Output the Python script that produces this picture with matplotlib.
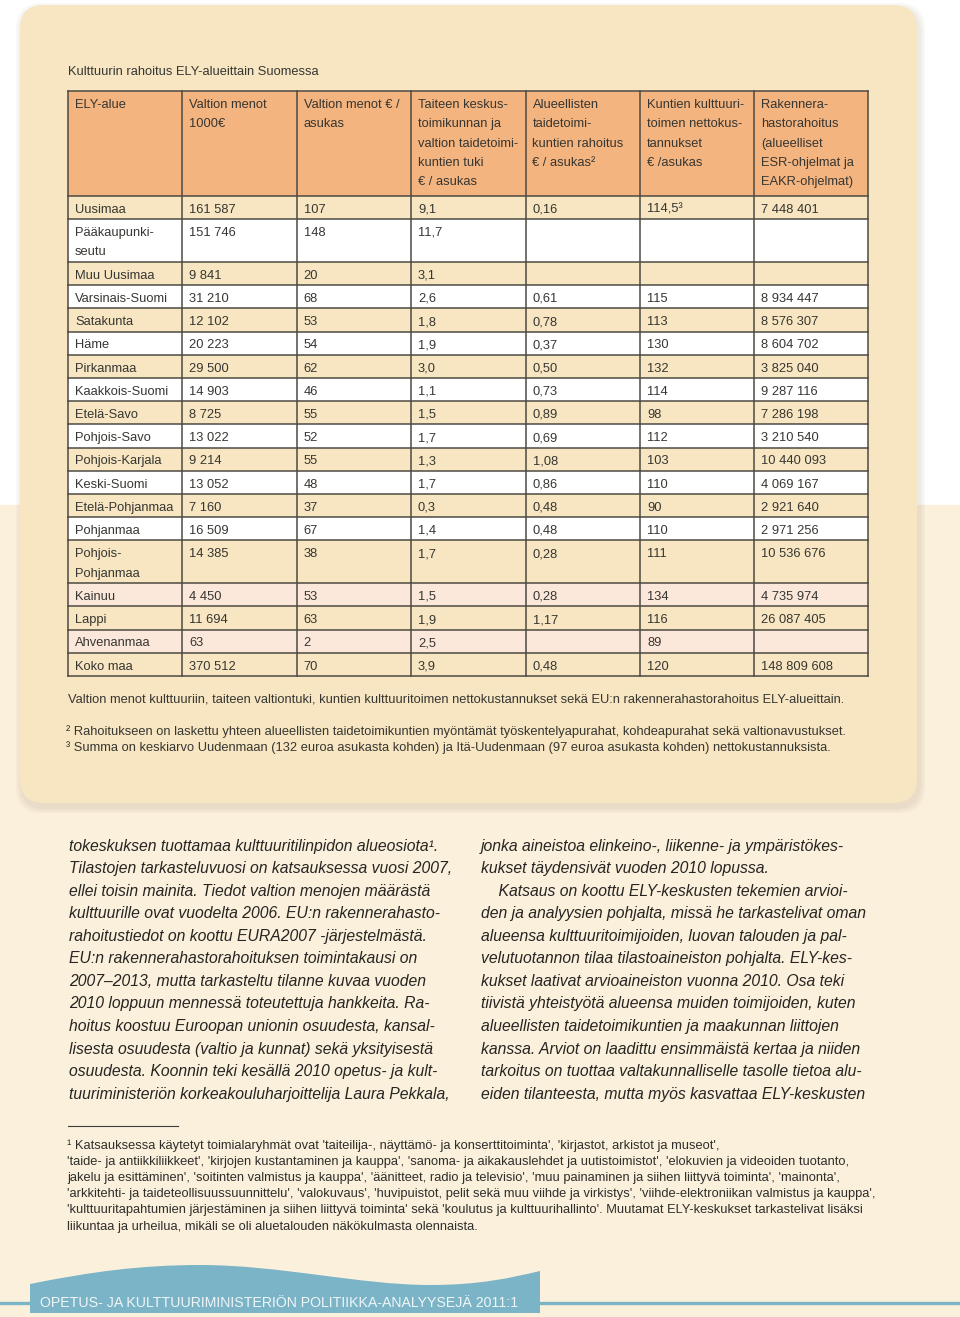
import matplotlib
matplotlib.use("Agg")
import matplotlib.pyplot as plt
from matplotlib.patches import Rectangle, FancyBboxPatch, PathPatch
from matplotlib.path import Path

# ---------------- data ----------------
title = "Kulttuurin rahoitus ELY-alueittain Suomessa"
headers = [
    ["ELY-alue"],
    ["Valtion menot", "1000€"],
    ["Valtion menot € /", "asukas"],
    ["Taiteen keskus-", "toimikunnan ja", "valtion taidetoimi-", "kuntien tuki", "€ / asukas"],
    ["Alueellisten", "taidetoimi-", "kuntien rahoitus", "€ / asukas²"],
    ["Kuntien kulttuuri-", "toimen nettokus-", "tannukset", "€ /asukas"],
    ["Rakennera-", "hastorahoitus", "(alueelliset", "ESR-ohjelmat ja", "EAKR-ohjelmat)"],
]
alueet = ["Uusimaa", "Pääkaupunki-\nseutu", "Muu Uusimaa", "Varsinais-Suomi", "Satakunta",
          "Häme", "Pirkanmaa", "Kaakkois-Suomi", "Etelä-Savo", "Pohjois-Savo",
          "Pohjois-Karjala", "Keski-Suomi", "Etelä-Pohjanmaa", "Pohjanmaa",
          "Pohjois-\nPohjanmaa", "Kainuu", "Lappi", "Ahvenanmaa", "Koko maa"]
valtion_menot = ["161 587", "151 746", "9 841", "31 210", "12 102", "20 223", "29 500",
                 "14 903", "8 725", "13 022", "9 214", "13 052", "7 160", "16 509",
                 "14 385", "4 450", "11 694", "63", "370 512"]
menot_asukas = ["107", "148", "20", "68", "53", "54", "62", "46", "55", "52", "55", "48",
                "37", "67", "38", "53", "63", "2", "70"]
taide_tuki = ["9,1", "11,7", "3,1", "2,6", "1,8", "1,9", "3,0", "1,1", "1,5", "1,7", "1,3",
              "1,7", "0,3", "1,4", "1,7", "1,5", "1,9", "2,5", "3,9"]
alueelliset = ["0,16", "", "", "0,61", "0,78", "0,37", "0,50", "0,73", "0,89", "0,69",
               "1,08", "0,86", "0,48", "0,48", "0,28", "0,28", "1,17", "", "0,48"]
kunnat = ["114,5³", "", "", "115", "113", "130", "132", "114", "98", "112", "103", "110",
          "90", "110", "111", "134", "116", "89", "120"]
rakennerahasto = ["7 448 401", "", "", "8 934 447", "8 576 307", "8 604 702", "3 825 040",
                  "9 287 116", "7 286 198", "3 210 540", "10 440 093", "4 069 167",
                  "2 921 640", "2 971 256", "10 536 676", "4 735 974", "26 087 405", "",
                  "148 809 608"]

caption = ("Valtion menot kulttuuriin, taiteen valtiontuki, kuntien kulttuuritoimen "
           "nettokustannukset sekä EU:n rakennerahastorahoitus ELY-alueittain.")
note2 = ("² Rahoitukseen on laskettu yhteen alueellisten taidetoimikuntien myöntämät "
         "työskentelyapurahat, kohdeapurahat sekä valtionavustukset.")
note3 = ("³ Summa on keskiarvo Uudenmaan (132 euroa asukasta kohden) ja Itä-Uudenmaan "
         "(97 euroa asukasta kohden) nettokustannuksista.")

body_left = [
    "tokeskuksen tuottamaa kulttuuritilinpidon alueosiota¹.",
    "Tilastojen tarkasteluvuosi on katsauksessa vuosi 2007,",
    "ellei toisin mainita. Tiedot valtion menojen määrästä",
    "kulttuurille ovat vuodelta 2006. EU:n rakennerahasto-",
    "rahoitustiedot on koottu EURA2007 -järjestelmästä.",
    "EU:n rakennerahastorahoituksen toimintakausi on",
    "2007–2013, mutta tarkasteltu tilanne kuvaa vuoden",
    "2010 loppuun mennessä toteutettuja hankkeita. Ra-",
    "hoitus koostuu Euroopan unionin osuudesta, kansal-",
    "lisesta osuudesta (valtio ja kunnat) sekä yksityisestä",
    "osuudesta. Koonnin teki kesällä 2010 opetus- ja kult-",
    "tuuriministeriön korkeakouluharjoittelija Laura Pekkala,",
]
body_right = [
    "jonka aineistoa elinkeino-, liikenne- ja ympäristökes-",
    "kukset täydensivät vuoden 2010 lopussa.",
    "    Katsaus on koottu ELY-keskusten tekemien arvioi-",
    "den ja analyysien pohjalta, missä he tarkastelivat oman",
    "alueensa kulttuuritoimijoiden, luovan talouden ja pal-",
    "velutuotannon tilaa tilastoaineiston pohjalta. ELY-kes-",
    "kukset laativat arvioaineiston vuonna 2010. Osa teki",
    "tiivistä yhteistyötä alueensa muiden toimijoiden, kuten",
    "alueellisten taidetoimikuntien ja maakunnan liittojen",
    "kanssa. Arviot on laadittu ensimmäistä kertaa ja niiden",
    "tarkoitus on tuottaa valtakunnalliselle tasolle tietoa alu-",
    "eiden tilanteesta, mutta myös kasvattaa ELY-keskusten",
]
footnote1 = [
    "¹ Katsauksessa käytetyt toimialaryhmät ovat 'taiteilija-, näyttämö- ja konserttitoiminta', 'kirjastot, arkistot ja museot',",
    "'taide- ja antiikkiliikkeet', 'kirjojen kustantaminen ja kauppa', 'sanoma- ja aikakauslehdet ja uutistoimistot', 'elokuvien ja videoiden tuotanto,",
    "jakelu ja esittäminen', 'soitinten valmistus ja kauppa', 'äänitteet, radio ja televisio', 'muu painaminen ja siihen liittyvä toiminta', 'mainonta',",
    "'arkkitehti- ja taideteollisuussuunnittelu', 'valokuvaus', 'huvipuistot, pelit sekä muu viihde ja virkistys', 'viihde-elektroniikan valmistus ja kauppa',",
    "'kulttuuritapahtumien järjestäminen ja siihen liittyvä toiminta' sekä 'koulutus ja kulttuurihallinto'. Muutamat ELY-keskukset tarkastelivat lisäksi",
    "liikuntaa ja urheilua, mikäli se oli aluetalouden näkökulmasta olennaista.",
]
banner = "OPETUS- JA KULTTUURIMINISTERIÖN POLITIIKKA-ANALYYSEJÄ 2011:1"

# ---------------- styles ----------------
plt.rcParams['font.family'] = ['Liberation Sans', 'DejaVu Sans']

TXT = '#363632'
CARD = '#f7e6c1'
PAGE = '#fbf0dc'
HEAD = '#f4b47f'
PINK = '#fce8da'
LINE = '#4d4a42'
TEAL = '#7ab4c6'

fig = plt.figure(figsize=(9.6, 13.17), dpi=100)
ax = fig.add_axes([0, 0, 1, 1])
ax.set_xlim(0, 960)
ax.set_ylim(1317, 0)
ax.axis('off')

def txt(x, yc, s, size, **kw):
    # yc = optical centre of capitals, text placed on its baseline
    ax.text(x, yc + size * 1.389 * 0.716 / 2, s, fontsize=size, va='baseline', zorder=5, **kw)

# page background: white top, cream lower part
ax.add_patch(Rectangle((0, 0), 960, 505, color='white', zorder=0))
ax.add_patch(Rectangle((0, 505), 960, 812, color=PAGE, zorder=0))

# card shadow + card
for k, a in enumerate([0.05, 0.05, 0.06]):
    grow = 6 - 2 * k
    ax.add_patch(FancyBboxPatch((20 - grow + 2, 5 - grow + 4), 897 + 2 * grow, 798 + 2 * grow,
                                boxstyle="round,pad=0,rounding_size=26",
                                fc='#8a7a60', ec='none', alpha=a, zorder=1))
ax.add_patch(FancyBboxPatch((20, 5), 897, 798, boxstyle="round,pad=0,rounding_size=24",
                            fc=CARD, ec='none', zorder=2))

fs = 9.25
txt(68, 70, title, fs, color=TXT)

# ---------------- table ----------------
col_x = [68, 182.3, 296.7, 411, 525.5, 640, 754, 868]
head_top, head_bot = 90.7, 196
single_h, double_h = 23.2, 42.8
line_gap = 19.4

ax.add_patch(Rectangle((col_x[0], head_top), col_x[-1] - col_x[0], head_bot - head_top,
                       fc=HEAD, ec='none', zorder=3))
for c, lines in enumerate(headers):
    for j, t in enumerate(lines):
        txt(col_x[c] + 7, head_top + 12.6 + j * line_gap, t, fs, color=TXT)

columns = [alueet, valtion_menot, menot_asukas, taide_tuki, alueelliset, kunnat, rakennerahasto]
row_edges = [head_bot]
y = head_bot
for i, name in enumerate(alueet):
    h = double_h if '\n' in name else single_h
    if i % 2 == 0:
        fill = CARD
    else:
        fill = 'white' if i < 15 else PINK
    ax.add_patch(Rectangle((col_x[0], y), col_x[-1] - col_x[0], h, fc=fill, ec='none', zorder=3))
    for c, col in enumerate(columns):
        for j, t in enumerate(col[i].split('\n')):
            txt(col_x[c] + 7, y + 12.2 + j * line_gap, t, fs, color=TXT)
    y += h
    row_edges.append(y)

# grid lines
for yy in [head_top] + row_edges:
    ax.plot([col_x[0], col_x[-1]], [yy, yy], color=LINE, lw=1.1, zorder=4,
            solid_capstyle='projecting')
for xx in col_x:
    ax.plot([xx, xx], [head_top, row_edges[-1]], color=LINE, lw=1.1, zorder=4)

txt(68, 698, caption, fs, color=TXT)
txt(66, 730, note2, fs, color=TXT)
txt(66, 746, note3, fs, color=TXT)

# ---------------- body text ----------------
bs = 11.35
for j, t in enumerate(body_left):
    txt(69, 845 + j * 22.55, t, bs, style='italic', color='#262522')
for j, t in enumerate(body_right):
    txt(481, 845 + j * 22.55, t, bs, style='italic', color='#262522')

ax.plot([68, 178], [1126, 1126], color='#3a3a3a', lw=0.8, zorder=5)
for j, t in enumerate(footnote1):
    txt(67, 1144 + j * 16.2, t, 9.25, color='#2e2e2b')

# ---------------- banner ----------------
ax.plot([0, 960], [1303, 1303], color=TEAL, lw=2.4, zorder=3)
verts = [(30, 1313), (30, 1284),
         (90, 1272), (140, 1265), (200, 1265),
         (280, 1265), (360, 1285), (430, 1285),
         (480, 1285), (510, 1278), (540, 1271),
         (540, 1313), (30, 1313)]
codes = [Path.MOVETO, Path.LINETO,
         Path.CURVE4, Path.CURVE4, Path.CURVE4,
         Path.CURVE4, Path.CURVE4, Path.CURVE4,
         Path.CURVE4, Path.CURVE4, Path.CURVE4,
         Path.LINETO, Path.CLOSEPOLY]
ax.add_patch(PathPatch(Path(verts, codes), fc=TEAL, ec='none', zorder=4))
txt(40, 1302, banner, 10.2, color='#eef6f8')

fig.savefig("out.png", dpi=100)
